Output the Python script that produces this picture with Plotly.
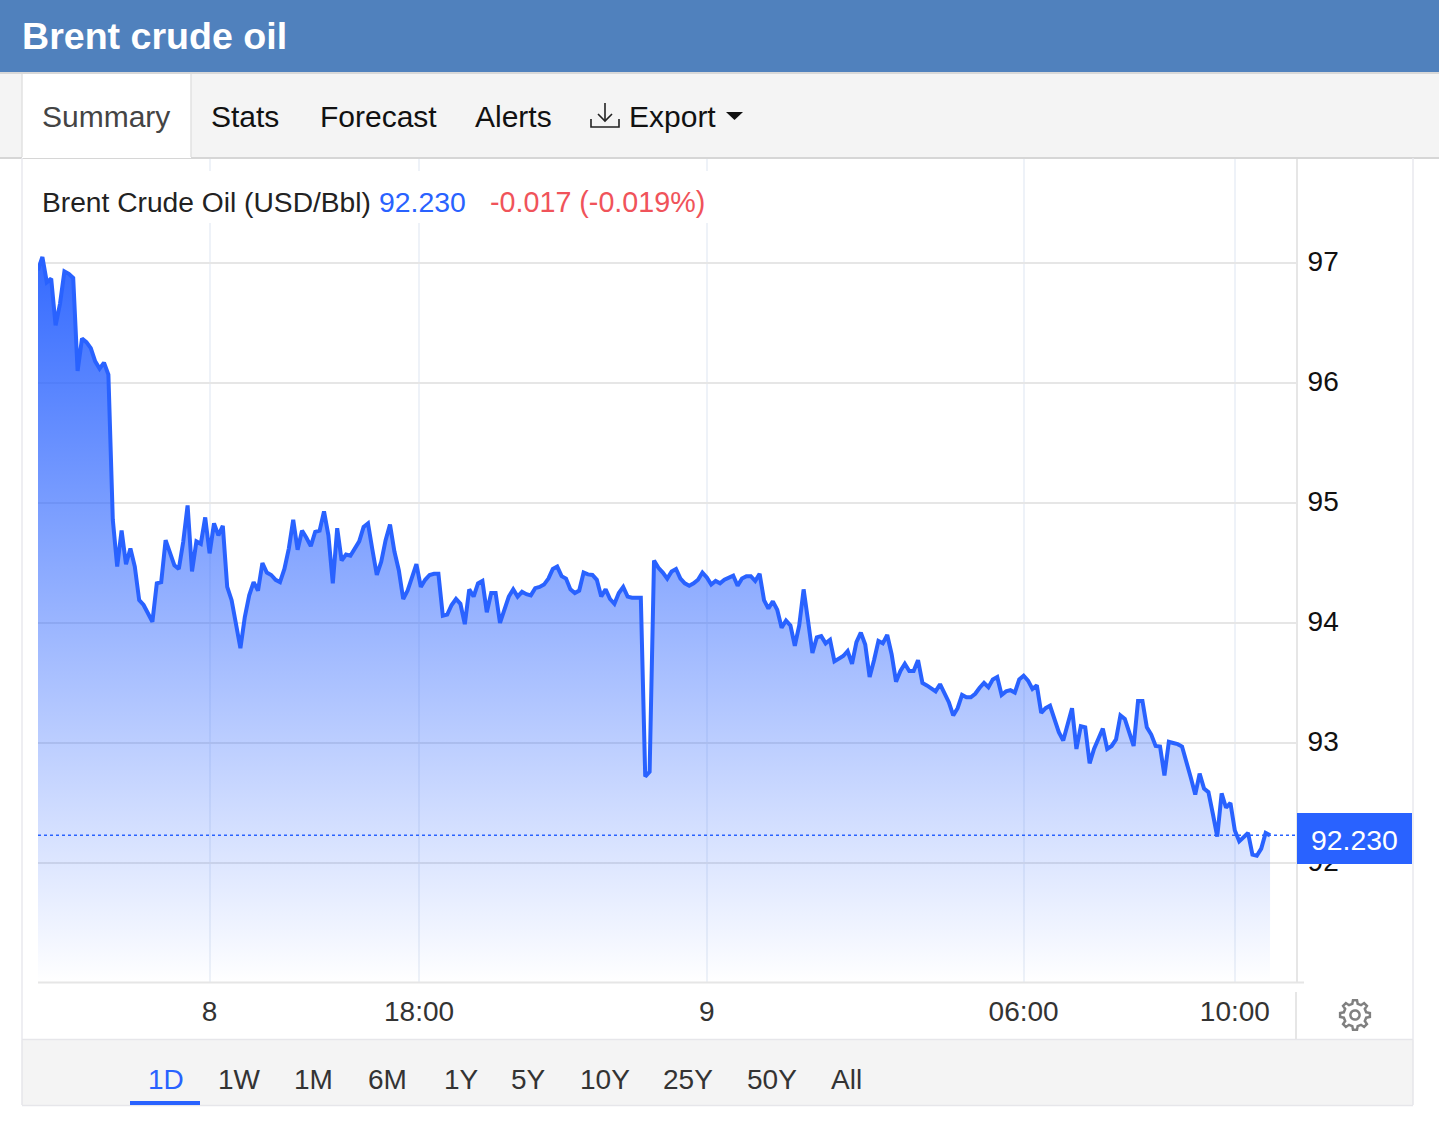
# Brent crude oil intraday chart, one day view with page header and range buttons
import numpy as np
import plotly.graph_objects as go

# Closing price per bar
prices = [
    96.94, 97.05, 96.84, 96.87, 96.48, 96.66, 96.93, 96.91, 96.875, 96.10,
    96.37, 96.34, 96.29, 96.18, 96.12, 96.17, 96.07, 94.86, 94.47, 94.77,
    94.49, 94.62, 94.47, 94.19, 94.15, 94.08, 94.01, 94.33, 94.34, 94.69,
    94.58, 94.48, 94.45, 94.675, 94.98, 94.43, 94.68, 94.66, 94.88, 94.58,
    94.83, 94.73, 94.81, 94.30, 94.19, 93.97, 93.79, 94.05, 94.23, 94.34,
    94.27, 94.50, 94.42, 94.40, 94.36, 94.34, 94.45, 94.62, 94.86, 94.61,
    94.77, 94.71, 94.64, 94.76, 94.77, 94.93, 94.73, 94.33, 94.79, 94.52,
    94.57, 94.56, 94.62, 94.68, 94.80, 94.83, 94.61, 94.40, 94.51, 94.69,
    94.82, 94.595, 94.44, 94.20, 94.27, 94.38, 94.49, 94.30, 94.36, 94.40,
    94.41, 94.41, 94.06, 94.07, 94.15, 94.20, 94.16, 93.99, 94.28, 94.22,
    94.33, 94.35, 94.09, 94.25, 94.25, 94.00, 94.11, 94.22, 94.28, 94.22,
    94.26, 94.24, 94.23, 94.29, 94.30, 94.32, 94.37, 94.45, 94.47, 94.39,
    94.37, 94.28, 94.25, 94.27, 94.42, 94.405, 94.40, 94.36, 94.22, 94.28,
    94.20, 94.16, 94.25, 94.30, 94.22, 94.21, 94.21, 94.21, 92.72, 92.76,
    94.52, 94.46, 94.42, 94.37, 94.43, 94.45, 94.37, 94.33, 94.31, 94.33,
    94.36, 94.42, 94.38, 94.32, 94.35, 94.33, 94.36, 94.38, 94.395, 94.31,
    94.37, 94.39, 94.39, 94.35, 94.41, 94.19, 94.12, 94.18, 94.11, 93.96,
    94.02, 93.98, 93.81, 93.98, 94.28, 94.02, 93.75, 93.88, 93.89, 93.83,
    93.86, 93.68, 93.70, 93.725, 93.765, 93.66, 93.84, 93.92, 93.82, 93.55,
    93.69, 93.85, 93.83, 93.90, 93.74, 93.51, 93.60, 93.66, 93.60, 93.60,
    93.69, 93.50, 93.48, 93.45, 93.43, 93.49, 93.41, 93.34, 93.23, 93.29,
    93.40, 93.38, 93.38, 93.41, 93.46, 93.50, 93.465, 93.53, 93.55, 93.40,
    93.43, 93.44, 93.42, 93.53, 93.56, 93.52, 93.45, 93.48, 93.25, 93.29,
    93.31, 93.20, 93.09, 93.02, 93.155, 93.29, 92.95, 93.14, 93.13, 92.83,
    92.95, 93.04, 93.12, 92.95, 92.975, 93.03, 93.23, 93.20, 93.09, 92.975,
    93.35, 93.35, 93.13, 93.07, 92.975, 92.97, 92.73, 93.01, 93.00, 92.99,
    92.97, 92.85, 92.71, 92.57, 92.745, 92.62, 92.59, 92.41, 92.22, 92.58,
    92.46, 92.50, 92.27, 92.18, 92.21, 92.25, 92.07, 92.06, 92.12, 92.25,
    92.23,
]
bars = list(range(len(prices)))

# Axis ticks
time_ticks = [39, 86.6, 152, 224, 272]
time_labels = ['8', '18:00', '9', '06:00', '10:00']
price_ticks = [92, 93, 94, 95, 96, 97]

# Page texts
tab_labels = ['Summary', 'Stats', 'Forecast', 'Alerts', 'Export']
range_labels = ['1D', '1W', '1M', '6M', '1Y', '5Y', '10Y', '25Y', '50Y', 'All']
last_price_label = '92.230'
change_label = '-0.017 (-0.019%)'

# Layout of the page, in screen pixels
W, H = 1439, 1138
tab_left = [40.5, 209.5, 318.5, 473.5, 628]
range_left = [147, 217, 293, 367, 443, 510, 579, 662, 746, 830]
BLUE = '#2962ff'
FONT = 'Liberation Sans'


def px(x):
    return x / W


def py(y):
    return 1 - y / H


def rect(x0, y0, x1, y1, color):
    return dict(type='rect', xref='paper', yref='paper', x0=px(x0), x1=px(x1),
                y0=py(y0), y1=py(y1), fillcolor=color, line=dict(width=0), layer='above')


def line(x0, y0, x1, y1, color, width=2):
    return dict(type='line', xref='paper', yref='paper', x0=px(x0), x1=px(x1),
                y0=py(y0), y1=py(y1), line=dict(color=color, width=width), layer='above')


def path(points, color, width=2.5, closed=False, fill=None):
    d = 'M ' + ' L '.join(f'{px(x):.5f},{py(y):.5f}' for x, y in points)
    if closed:
        d += ' Z'
    return dict(type='path', xref='paper', yref='paper', path=d, layer='above',
                line=dict(color=color, width=width), fillcolor=fill)


def label(x, y, text, size=30, color='#111111', bold=False, xanchor='left'):
    return dict(x=px(x), y=py(y), xref='paper', yref='paper', text=f'<b>{text}</b>' if bold else text,
                showarrow=False, xanchor=xanchor, yanchor='middle', xshift=0, yshift=0,
                borderpad=0, font=dict(family=FONT, size=size, color=color))


# Gear outline for the settings button
def gear(cx, cy, r_out, r_in, teeth=8):
    points = []
    for i in range(teeth):
        a = 2 * np.pi * i / teeth
        step = 2 * np.pi / teeth
        for off, r in [(-0.30, r_in), (-0.17, r_out), (0.17, r_out), (0.30, r_in)]:
            points.append((cx + r * np.cos(a + off * step), cy + r * np.sin(a + off * step)))
    return points


hole = [(1355 + 4.6 * np.cos(t), 1015 + 4.6 * np.sin(t)) for t in np.linspace(0, 2 * np.pi, 24)]

# Page furniture
shapes = [
    rect(0, 0, W, 72, '#5081bd'),
    rect(0, 72, W, 158, '#f4f4f4'),
    line(0, 73, W, 73, '#d8d8d8', 2),
    line(0, 158, W, 158, '#d6d6d6', 2),
    rect(22, 74, 191, 158, '#ffffff'),
    line(22, 74, 22, 157, '#e2e2e2', 1.5),
    line(191, 74, 191, 157, '#e2e2e2', 1.5),
    # white strip behind the quote line
    rect(24, 171, 722, 223, '#ffffff'),
    # panel frame
    line(22, 158, 22, 1040, '#e8e8ee', 1.5),
    line(1413, 158, 1413, 1040, '#e8e8ee', 1.5),
    rect(22, 1040, 1413, 1105, '#f4f4f4'),
    line(22, 1039.5, 1413, 1039.5, '#e6e6ea', 1.5),
    line(22, 1105.5, 1413, 1105.5, '#e6e6ea', 1.5),
    line(22, 1040, 22, 1105, '#e6e6ea', 1.5),
    line(1413, 1040, 1413, 1105, '#e6e6ea', 1.5),
    rect(130, 1101, 200, 1105, BLUE),
    # chart separators
    line(38, 982.5, 1304, 982.5, '#e6e6e6', 2),
    line(1296, 992, 1296, 1039, '#e6e6e6', 2),
    # last price box
    rect(1297, 813, 1412, 864, BLUE),
    # export icon and caret
    path([(591, 119), (591, 127), (619, 127), (619, 119)], '#222222', 1.6),
    path([(605, 103), (605, 121)], '#222222', 1.6),
    path([(598, 114), (605, 121), (612, 114)], '#222222', 1.6),
    path([(726, 112), (743, 112), (734.5, 120)], '#111111', 0, True, '#111111'),
    # settings icon
    path(gear(1355, 1015, 15, 11.5), '#808080', 2.5, True),
    path(hole, '#808080', 2.5, True),
]

# Page texts
annotations = [label(20.5, 36, 'Brent crude oil', 37.6, '#ffffff', True)]
for i, (name, left) in enumerate(zip(tab_labels, tab_left)):
    annotations.append(label(left, 116, name, 30, '#444444' if i == 0 else '#111111'))
annotations += [
    label(40.5, 202, 'Brent Crude Oil (USD/Bbl)', 28.2, '#222222'),
    label(378, 202, last_price_label, 28.4, BLUE),
    label(489, 202, change_label, 28.7, '#f0535a'),
    label(1354.5, 840, last_price_label, 28.4, '#ffffff', xanchor='center'),
]
for i, (name, left) in enumerate(zip(range_labels, range_left)):
    annotations.append(label(left, 1079, name, 28, BLUE if i == 0 else '#333333'))

# Price line with the area under it fading to nothing at the bottom of the plot
fig = go.Figure()
fig.add_trace(go.Scatter(
    x=bars, y=prices, mode='lines', fill='tozeroy',
    line=dict(color=BLUE, width=4),
    fillgradient=dict(type='vertical', start=91.0, stop=97.05,
                      colorscale=[[0, 'rgba(41,98,255,0)'], [1, 'rgba(41,98,255,0.95)']]),
    hovertemplate='%{y:.3f}<extra></extra>'))

# Dotted level at the last price
fig.add_hline(y=prices[-1], line=dict(color=BLUE, width=1.5, dash='dot'), layer='above')

fig.update_layout(
    width=W,
    height=H,
    margin=dict(l=0, r=0, t=0, b=0),
    paper_bgcolor='white',
    plot_bgcolor='white',
    showlegend=False,
    font=dict(family=FONT),
    xaxis=dict(domain=[px(38), px(1296)], range=[0, 285.9], tickmode='array',
               tickvals=time_ticks, ticktext=time_labels, showgrid=True,
               gridcolor='#eef2f8', gridwidth=1.5, zeroline=False, showline=False,
               ticks='outside', ticklen=4, tickcolor='rgba(0,0,0,0)',
               tickfont=dict(family=FONT, size=28, color='#333333')),
    yaxis=dict(domain=[py(982), py(158)], range=[91.008, 97.875], side='right',
               tickmode='array', tickvals=price_ticks, ticktext=[str(v) for v in price_ticks],
               showgrid=True, gridcolor='#e6e6e6', gridwidth=1.8, zeroline=False,
               showline=True, linecolor='#e6e6e6', linewidth=2,
               ticks='outside', ticklen=4, tickcolor='rgba(0,0,0,0)', ticklabelshift=-2,
               tickfont=dict(family=FONT, size=28, color='#111111')),
    annotations=annotations,
)
for shape in shapes:
    fig.add_shape(**shape)

fig.write_html('out.html', config={'displayModeBar': False},
               post_script="document.body.style.margin='0';")
